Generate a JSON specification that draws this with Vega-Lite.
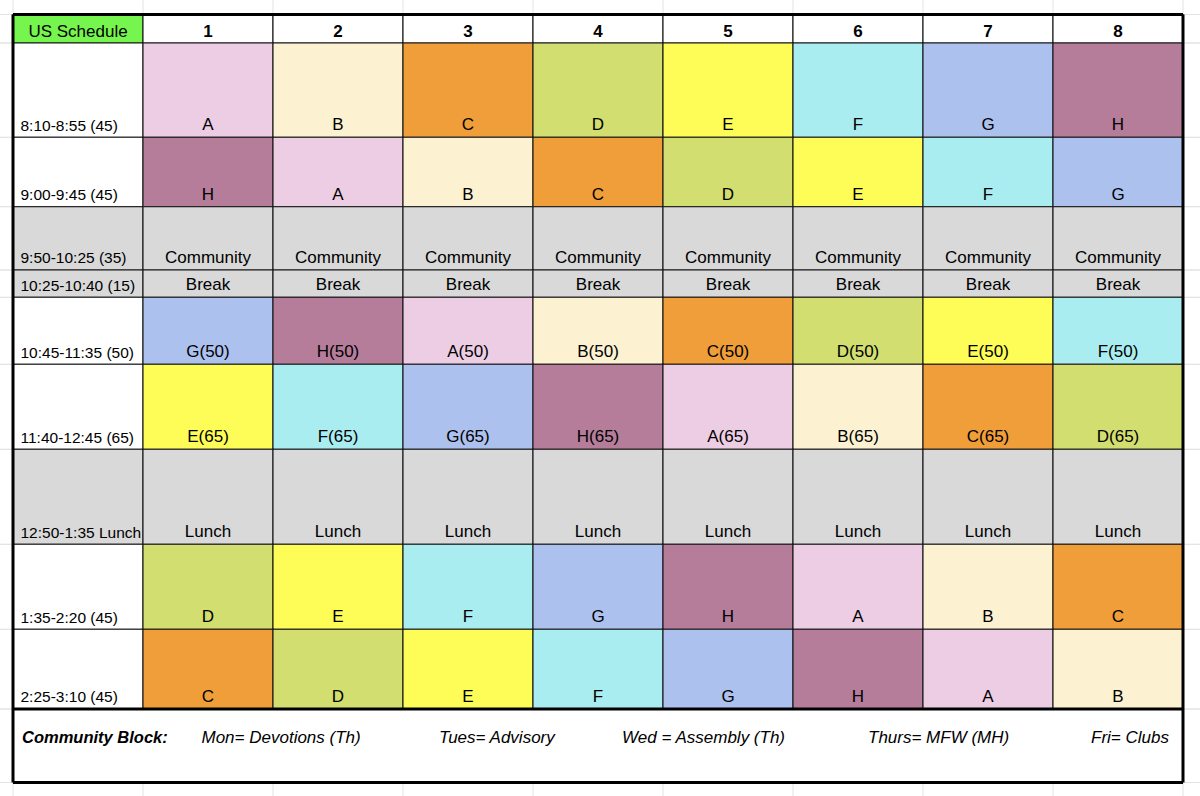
{
  "$schema": "https://vega.github.io/schema/vega-lite/v6.json",
  "width": 1200,
  "height": 796,
  "autosize": {"type": "none"},
  "padding": 0,
  "background": "#ffffff",
  "config": {"view": {"stroke": null}, "text": {"font": "Liberation Sans", "color": "#000000"}},
  "datasets": {
    "rows": [
      {"label": "US Schedule", "start": 470, "end": 490, "block": "title"},
      {"label": "8:10-8:55 (45)", "start": 490, "end": 535, "block": "time"},
      {"label": "9:00-9:45 (45)", "start": 540, "end": 585, "block": "time"},
      {"label": "9:50-10:25 (35)", "start": 590, "end": 625, "block": "Community"},
      {"label": "10:25-10:40 (15)", "start": 625, "end": 640, "block": "Break"},
      {"label": "10:45-11:35 (50)", "start": 645, "end": 695, "block": "time"},
      {"label": "11:40-12:45 (65)", "start": 700, "end": 765, "block": "time"},
      {"label": "12:50-1:35 Lunch", "start": 770, "end": 815, "block": "Lunch"},
      {"label": "1:35-2:20 (45)", "start": 815, "end": 860, "block": "time"},
      {"label": "2:25-3:10 (45)", "start": 865, "end": 910, "block": "time"},
      {"label": "footer", "start": 910, "end": 930, "block": "footer"}
    ],
    "cols": [
      {"col": "label"}, {"col": "1"}, {"col": "2"}, {"col": "3"}, {"col": "4"},
      {"col": "5"}, {"col": "6"}, {"col": "7"}, {"col": "8"}
    ],
    "footer": [
      {"item": "Community Block:"},
      {"item": "Mon= Devotions (Th)"},
      {"item": "Tues= Advisory"},
      {"item": "Wed = Assembly (Th)"},
      {"item": "Thurs= MFW (MH)"},
      {"item": "Fri= Clubs"}
    ],
    "cells": [
      {"row": "US Schedule", "col": "1", "block": "header", "text": "1"},
      {"row": "US Schedule", "col": "2", "block": "header", "text": "2"},
      {"row": "US Schedule", "col": "3", "block": "header", "text": "3"},
      {"row": "US Schedule", "col": "4", "block": "header", "text": "4"},
      {"row": "US Schedule", "col": "5", "block": "header", "text": "5"},
      {"row": "US Schedule", "col": "6", "block": "header", "text": "6"},
      {"row": "US Schedule", "col": "7", "block": "header", "text": "7"},
      {"row": "US Schedule", "col": "8", "block": "header", "text": "8"},
      {"row": "8:10-8:55 (45)", "col": "1", "block": "A", "text": "A"},
      {"row": "8:10-8:55 (45)", "col": "2", "block": "B", "text": "B"},
      {"row": "8:10-8:55 (45)", "col": "3", "block": "C", "text": "C"},
      {"row": "8:10-8:55 (45)", "col": "4", "block": "D", "text": "D"},
      {"row": "8:10-8:55 (45)", "col": "5", "block": "E", "text": "E"},
      {"row": "8:10-8:55 (45)", "col": "6", "block": "F", "text": "F"},
      {"row": "8:10-8:55 (45)", "col": "7", "block": "G", "text": "G"},
      {"row": "8:10-8:55 (45)", "col": "8", "block": "H", "text": "H"},
      {"row": "9:00-9:45 (45)", "col": "1", "block": "H", "text": "H"},
      {"row": "9:00-9:45 (45)", "col": "2", "block": "A", "text": "A"},
      {"row": "9:00-9:45 (45)", "col": "3", "block": "B", "text": "B"},
      {"row": "9:00-9:45 (45)", "col": "4", "block": "C", "text": "C"},
      {"row": "9:00-9:45 (45)", "col": "5", "block": "D", "text": "D"},
      {"row": "9:00-9:45 (45)", "col": "6", "block": "E", "text": "E"},
      {"row": "9:00-9:45 (45)", "col": "7", "block": "F", "text": "F"},
      {"row": "9:00-9:45 (45)", "col": "8", "block": "G", "text": "G"},
      {"row": "9:50-10:25 (35)", "col": "1", "block": "Community", "text": "Community"},
      {"row": "9:50-10:25 (35)", "col": "2", "block": "Community", "text": "Community"},
      {"row": "9:50-10:25 (35)", "col": "3", "block": "Community", "text": "Community"},
      {"row": "9:50-10:25 (35)", "col": "4", "block": "Community", "text": "Community"},
      {"row": "9:50-10:25 (35)", "col": "5", "block": "Community", "text": "Community"},
      {"row": "9:50-10:25 (35)", "col": "6", "block": "Community", "text": "Community"},
      {"row": "9:50-10:25 (35)", "col": "7", "block": "Community", "text": "Community"},
      {"row": "9:50-10:25 (35)", "col": "8", "block": "Community", "text": "Community"},
      {"row": "10:25-10:40 (15)", "col": "1", "block": "Break", "text": "Break"},
      {"row": "10:25-10:40 (15)", "col": "2", "block": "Break", "text": "Break"},
      {"row": "10:25-10:40 (15)", "col": "3", "block": "Break", "text": "Break"},
      {"row": "10:25-10:40 (15)", "col": "4", "block": "Break", "text": "Break"},
      {"row": "10:25-10:40 (15)", "col": "5", "block": "Break", "text": "Break"},
      {"row": "10:25-10:40 (15)", "col": "6", "block": "Break", "text": "Break"},
      {"row": "10:25-10:40 (15)", "col": "7", "block": "Break", "text": "Break"},
      {"row": "10:25-10:40 (15)", "col": "8", "block": "Break", "text": "Break"},
      {"row": "10:45-11:35 (50)", "col": "1", "block": "G", "text": "G(50)"},
      {"row": "10:45-11:35 (50)", "col": "2", "block": "H", "text": "H(50)"},
      {"row": "10:45-11:35 (50)", "col": "3", "block": "A", "text": "A(50)"},
      {"row": "10:45-11:35 (50)", "col": "4", "block": "B", "text": "B(50)"},
      {"row": "10:45-11:35 (50)", "col": "5", "block": "C", "text": "C(50)"},
      {"row": "10:45-11:35 (50)", "col": "6", "block": "D", "text": "D(50)"},
      {"row": "10:45-11:35 (50)", "col": "7", "block": "E", "text": "E(50)"},
      {"row": "10:45-11:35 (50)", "col": "8", "block": "F", "text": "F(50)"},
      {"row": "11:40-12:45 (65)", "col": "1", "block": "E", "text": "E(65)"},
      {"row": "11:40-12:45 (65)", "col": "2", "block": "F", "text": "F(65)"},
      {"row": "11:40-12:45 (65)", "col": "3", "block": "G", "text": "G(65)"},
      {"row": "11:40-12:45 (65)", "col": "4", "block": "H", "text": "H(65)"},
      {"row": "11:40-12:45 (65)", "col": "5", "block": "A", "text": "A(65)"},
      {"row": "11:40-12:45 (65)", "col": "6", "block": "B", "text": "B(65)"},
      {"row": "11:40-12:45 (65)", "col": "7", "block": "C", "text": "C(65)"},
      {"row": "11:40-12:45 (65)", "col": "8", "block": "D", "text": "D(65)"},
      {"row": "12:50-1:35 Lunch", "col": "1", "block": "Lunch", "text": "Lunch"},
      {"row": "12:50-1:35 Lunch", "col": "2", "block": "Lunch", "text": "Lunch"},
      {"row": "12:50-1:35 Lunch", "col": "3", "block": "Lunch", "text": "Lunch"},
      {"row": "12:50-1:35 Lunch", "col": "4", "block": "Lunch", "text": "Lunch"},
      {"row": "12:50-1:35 Lunch", "col": "5", "block": "Lunch", "text": "Lunch"},
      {"row": "12:50-1:35 Lunch", "col": "6", "block": "Lunch", "text": "Lunch"},
      {"row": "12:50-1:35 Lunch", "col": "7", "block": "Lunch", "text": "Lunch"},
      {"row": "12:50-1:35 Lunch", "col": "8", "block": "Lunch", "text": "Lunch"},
      {"row": "1:35-2:20 (45)", "col": "1", "block": "D", "text": "D"},
      {"row": "1:35-2:20 (45)", "col": "2", "block": "E", "text": "E"},
      {"row": "1:35-2:20 (45)", "col": "3", "block": "F", "text": "F"},
      {"row": "1:35-2:20 (45)", "col": "4", "block": "G", "text": "G"},
      {"row": "1:35-2:20 (45)", "col": "5", "block": "H", "text": "H"},
      {"row": "1:35-2:20 (45)", "col": "6", "block": "A", "text": "A"},
      {"row": "1:35-2:20 (45)", "col": "7", "block": "B", "text": "B"},
      {"row": "1:35-2:20 (45)", "col": "8", "block": "C", "text": "C"},
      {"row": "2:25-3:10 (45)", "col": "1", "block": "C", "text": "C"},
      {"row": "2:25-3:10 (45)", "col": "2", "block": "D", "text": "D"},
      {"row": "2:25-3:10 (45)", "col": "3", "block": "E", "text": "E"},
      {"row": "2:25-3:10 (45)", "col": "4", "block": "F", "text": "F"},
      {"row": "2:25-3:10 (45)", "col": "5", "block": "G", "text": "G"},
      {"row": "2:25-3:10 (45)", "col": "6", "block": "H", "text": "H"},
      {"row": "2:25-3:10 (45)", "col": "7", "block": "A", "text": "A"},
      {"row": "2:25-3:10 (45)", "col": "8", "block": "B", "text": "B"}
    ]
  },
  "layer": [
    {
      "data": {"name": "rows"},
      "transform": [{"fold": ["start", "end"], "as": ["edge", "t"]}],
      "mark": {"type": "rule", "color": "#e3e3e3", "strokeWidth": 1},
      "encoding": {
        "y": {"field": "t", "type": "quantitative", "axis": null,
          "scale": {"domain": [470,490,535,540,585,590,625,640,645,695,700,765,770,815,860,865,910,930], "range": [14.5,43,137.3,137.3,206.7,206.7,270,297.3,297.3,364.3,364.3,449.3,449.3,544.3,629.3,629.3,709,782.5], "zero": false, "nice": false}}
      }
    },
    {
      "data": {"name": "cols"},
      "mark": {"type": "rule", "color": "#e3e3e3", "strokeWidth": 1},
      "encoding": {
        "x": {"field": "col", "type": "nominal", "bandPosition": 0, "axis": null,
          "scale": {"domain": ["label","1","2","3","4","5","6","7","8"], "range": [13, 1183], "paddingInner": 0, "paddingOuter": 0}}
      }
    },
    {
      "data": {"name": "cols"},
      "transform": [{"filter": "datum.col === '8'"}],
      "mark": {"type": "rule", "color": "#e3e3e3", "strokeWidth": 1},
      "encoding": {
        "x": {"field": "col", "type": "nominal", "bandPosition": 1, "axis": null}
      }
    },
    {
      "data": {"name": "cols"},
      "mark": {"type": "rect", "fill": "#ffffff", "strokeWidth": 0},
      "encoding": {
        "x": {"field": "col", "type": "nominal", "axis": null},
        "y": {"datum": 910, "type": "quantitative"},
        "y2": {"datum": 930}
      }
    },
    {
      "data": {"name": "rows"},
      "transform": [{"filter": "datum.block !== 'footer'"}],
      "mark": {"type": "rect", "stroke": "#141414", "strokeWidth": 1.1},
      "encoding": {
        "x": {"datum": "label", "type": "nominal"},
        "y": {"field": "start", "type": "quantitative"},
        "y2": {"field": "end"},
        "fill": {"field": "block", "type": "nominal", "legend": null,
          "scale": {"domain": ["A","B","C","D","E","F","G","H","Community","Break","Lunch","time","title","header"],
            "range": ["#eccde4","#fcf1d1","#f09e3a","#d2de6f","#fefd58","#aaedf0","#adc1ef","#b67d9b","#d9d9d9","#d9d9d9","#d9d9d9","#ffffff","#77f54f","#ffffff"]}}
      }
    },
    {
      "data": {"name": "cells"},
      "transform": [{"lookup": "row", "from": {"data": {"name": "rows"}, "key": "label", "fields": ["start", "end"]}}],
      "mark": {"type": "rect", "stroke": "#141414", "strokeWidth": 1.1},
      "encoding": {
        "x": {"field": "col", "type": "nominal"},
        "y": {"field": "start", "type": "quantitative"},
        "y2": {"field": "end"},
        "fill": {"field": "block", "type": "nominal", "legend": null}
      }
    },
    {
      "data": {"name": "rows"},
      "transform": [{"filter": "datum.block !== 'footer' && datum.block !== 'title'"}],
      "mark": {"type": "text", "align": "left", "baseline": "alphabetic", "dx": 7.5, "dy": -6.8, "fontSize": 15.5},
      "encoding": {
        "x": {"datum": "label", "type": "nominal", "bandPosition": 0},
        "y": {"field": "end", "type": "quantitative"},
        "text": {"field": "label"}
      }
    },
    {
      "data": {"name": "rows"},
      "transform": [{"filter": "datum.block === 'title'"}],
      "mark": {"type": "text", "align": "center", "baseline": "alphabetic", "dy": -6.5, "fontSize": 17},
      "encoding": {
        "x": {"datum": "label", "type": "nominal", "bandPosition": 0.5},
        "y": {"field": "end", "type": "quantitative"},
        "text": {"field": "label"}
      }
    },
    {
      "data": {"name": "cells"},
      "transform": [
        {"filter": "datum.block !== 'header'"},
        {"lookup": "row", "from": {"data": {"name": "rows"}, "key": "label", "fields": ["start", "end"]}}
      ],
      "mark": {"type": "text", "align": "center", "baseline": "alphabetic", "dy": -7, "fontSize": 17},
      "encoding": {
        "x": {"field": "col", "type": "nominal", "bandPosition": 0.5},
        "y": {"field": "end", "type": "quantitative"},
        "text": {"field": "text"}
      }
    },
    {
      "data": {"name": "cells"},
      "transform": [
        {"filter": "datum.block === 'header'"},
        {"lookup": "row", "from": {"data": {"name": "rows"}, "key": "label", "fields": ["start", "end"]}}
      ],
      "mark": {"type": "text", "align": "center", "baseline": "alphabetic", "dy": -6.5, "fontSize": 17, "fontWeight": "bold"},
      "encoding": {
        "x": {"field": "col", "type": "nominal", "bandPosition": 0.5},
        "y": {"field": "end", "type": "quantitative"},
        "text": {"field": "text"}
      }
    },
    {
      "data": {"name": "cols"},
      "transform": [{"filter": "datum.col === 'label'"}],
      "mark": {"type": "rule", "color": "#000000", "strokeWidth": 3},
      "encoding": {
        "x": {"field": "col", "type": "nominal", "bandPosition": 0},
        "y": {"datum": 470, "type": "quantitative"},
        "y2": {"datum": 930}
      }
    },
    {
      "data": {"name": "cols"},
      "transform": [{"filter": "datum.col === '8'"}],
      "mark": {"type": "rule", "color": "#000000", "strokeWidth": 3},
      "encoding": {
        "x": {"field": "col", "type": "nominal", "bandPosition": 1},
        "y": {"datum": 470, "type": "quantitative"},
        "y2": {"datum": 930}
      }
    },
    {
      "data": {"name": "cols"},
      "mark": {"type": "rect", "fill": null, "stroke": "#000000", "strokeWidth": 3},
      "encoding": {
        "x": {"field": "col", "type": "nominal"},
        "y": {"datum": 470, "type": "quantitative"},
        "y2": {"datum": 470}
      }
    },
    {
      "data": {"name": "cols"},
      "mark": {"type": "rect", "fill": null, "stroke": "#000000", "strokeWidth": 3},
      "encoding": {
        "x": {"field": "col", "type": "nominal"},
        "y": {"datum": 910, "type": "quantitative"},
        "y2": {"datum": 910}
      }
    },
    {
      "data": {"name": "cols"},
      "mark": {"type": "rect", "fill": null, "stroke": "#000000", "strokeWidth": 3},
      "encoding": {
        "x": {"field": "col", "type": "nominal"},
        "y": {"datum": 930, "type": "quantitative"},
        "y2": {"datum": 930}
      }
    },
    {
      "data": {"name": "footer"},
      "transform": [{"filter": "datum.item === 'Community Block:'"}],
      "mark": {"type": "text", "align": "left", "baseline": "alphabetic", "dx": 9, "dy": 34, "fontSize": 16.5, "fontWeight": "bold", "fontStyle": "italic"},
      "encoding": {
        "x": {"datum": "label", "type": "nominal", "bandPosition": 0},
        "y": {"datum": 910, "type": "quantitative"},
        "text": {"field": "item"}
      }
    },
    {
      "data": {"name": "footer"},
      "transform": [{"filter": "datum.item === 'Mon= Devotions (Th)'"}],
      "mark": {"type": "text", "align": "left", "baseline": "alphabetic", "dy": 34, "fontSize": 17, "fontStyle": "italic"},
      "encoding": {
        "x": {"datum": "1", "type": "nominal", "bandPosition": 0.45},
        "y": {"datum": 910, "type": "quantitative"},
        "text": {"field": "item"}
      }
    },
    {
      "data": {"name": "footer"},
      "transform": [{"filter": "datum.item === 'Tues= Advisory'"}],
      "mark": {"type": "text", "align": "left", "baseline": "alphabetic", "dy": 34, "fontSize": 17, "fontStyle": "italic"},
      "encoding": {
        "x": {"datum": "3", "type": "nominal", "bandPosition": 0.277},
        "y": {"datum": 910, "type": "quantitative"},
        "text": {"field": "item"}
      }
    },
    {
      "data": {"name": "footer"},
      "transform": [{"filter": "datum.item === 'Wed = Assembly (Th)'"}],
      "mark": {"type": "text", "align": "left", "baseline": "alphabetic", "dy": 34, "fontSize": 17, "fontStyle": "italic"},
      "encoding": {
        "x": {"datum": "4", "type": "nominal", "bandPosition": 0.685},
        "y": {"datum": 910, "type": "quantitative"},
        "text": {"field": "item"}
      }
    },
    {
      "data": {"name": "footer"},
      "transform": [{"filter": "datum.item === 'Thurs= MFW (MH)'"}],
      "mark": {"type": "text", "align": "left", "baseline": "alphabetic", "dy": 34, "fontSize": 17, "fontStyle": "italic"},
      "encoding": {
        "x": {"datum": "6", "type": "nominal", "bandPosition": 0.577},
        "y": {"datum": 910, "type": "quantitative"},
        "text": {"field": "item"}
      }
    },
    {
      "data": {"name": "footer"},
      "transform": [{"filter": "datum.item === 'Fri= Clubs'"}],
      "mark": {"type": "text", "align": "right", "baseline": "alphabetic", "dy": 34, "fontSize": 17, "fontStyle": "italic"},
      "encoding": {
        "x": {"datum": "8", "type": "nominal", "bandPosition": 0.892},
        "y": {"datum": 910, "type": "quantitative"},
        "text": {"field": "item"}
      }
    }
  ]
}
